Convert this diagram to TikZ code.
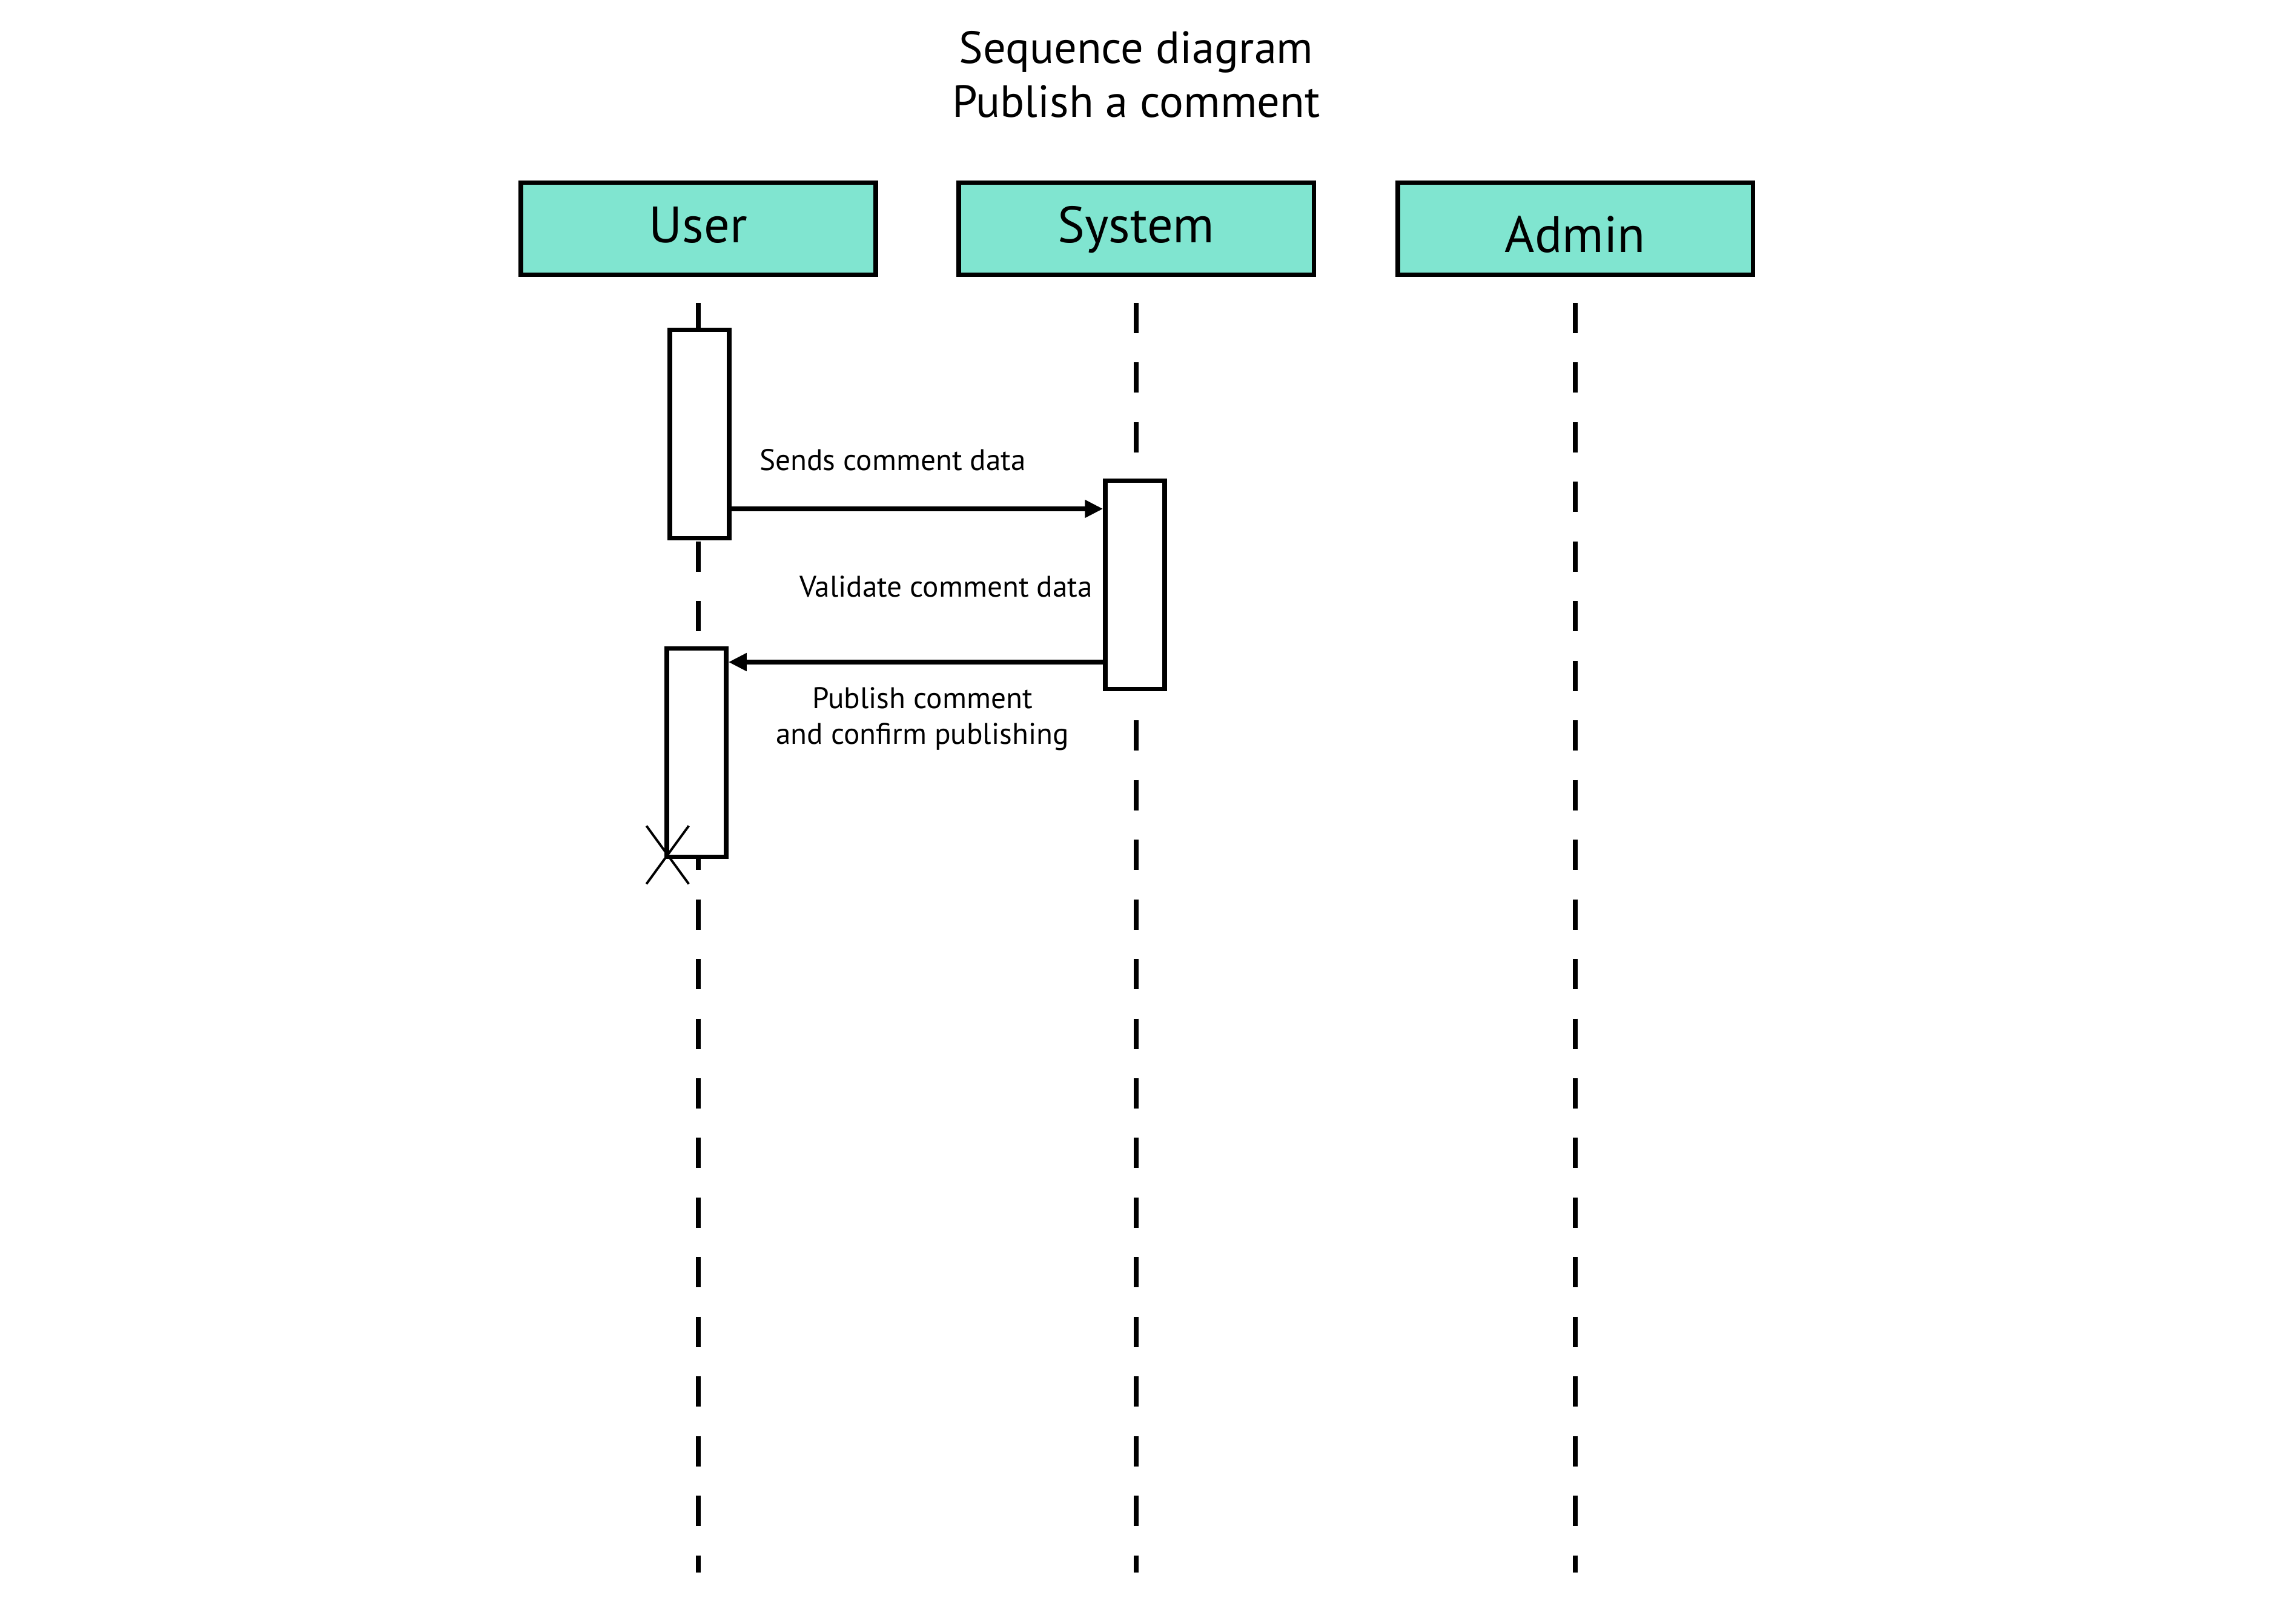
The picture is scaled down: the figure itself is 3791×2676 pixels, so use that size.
\documentclass[tikz,border=0pt]{standalone}
\usepackage{fontspec}
\setmainfont{PT Sans}
\usetikzlibrary{arrows.meta,shapes.misc}
\definecolor{actorfill}{RGB}{128,229,208}

\begin{document}
\begin{tikzpicture}[x=0.01cm,y=-0.01cm,
        title/.style={font=\fontsize{21.2}{25.2}\selectfont, align=center},
        actor/.style={draw, line width=2.1pt, fill=actorfill, minimum width=5.86cm, minimum height=1.515cm,
            inner sep=0pt, font=\fontsize{24}{28}\selectfont, text height=0.6cm, text depth=0.15cm},
        activation/.style={draw, line width=2.1pt, fill=white, minimum width=0.98cm, minimum height=3.44cm, inner sep=0pt},
        lifeline/.style={line width=2.1pt, dash pattern=on 0.5cm off 0.484cm},
        msg/.style={line width=2.2pt, -{Triangle[length=0.3cm,width=0.28cm]}},
        msglabel/.style={font=\fontsize{14}{16.5}\selectfont, align=center, anchor=base},
        destroy/.style={draw, cross out, line width=1.1pt, minimum width=0.66cm, minimum height=0.92cm, inner sep=0pt}
    ]
        \fill[white] (0,0) rectangle (3791,2676);
        \useasboundingbox (0,0) rectangle (3791,2676);

        \node[title] (title) at (1876,123) {Sequence diagram\\Publish a comment};

        \node[actor] (user) at (1153,377.5) {User};
        \node[actor] (system) at (1876,377.5) {System};
        \node[actor, text height=0.77cm, text depth=0cm] (admin) at (2601,377.5) {Admin};

        \coordinate (bottom) at (0,2596);
        \draw[lifeline] ([yshift=-0.43cm]user.south) -- (user.south |- bottom);
        \draw[lifeline] ([yshift=-0.43cm]system.south) -- (system.south |- bottom);
        \draw[lifeline] ([yshift=-0.43cm]admin.south) -- (admin.south |- bottom);

        \node[activation] (uact1) at (1155,716.5) {};
        \node[activation] (sact) at (1874,965.5) {};
        \node[activation] (uact2) at (1150,1242.5) {};

        \coordinate (m1) at (0,840);
        \coordinate (m2) at (0,1093);
        \draw[msg] (uact1.east |- m1) -- (sact.west |- m1);
        \draw[msg] (sact.west |- m2) -- (uact2.east |- m2);

        \node[msglabel] (sendlbl) at (1474,776) {Sends comment data};
        \node[msglabel] (validlbl) at (1562,985) {Validate comment data};
        \node[msglabel] (publbl) at (1523,1228) {Publish comment\\and confirm publishing};

        \node[destroy] (uend) at ([xshift=0.05cm,yshift=0.07cm]uact2.south west) {};
    \end{tikzpicture}
\end{document}
